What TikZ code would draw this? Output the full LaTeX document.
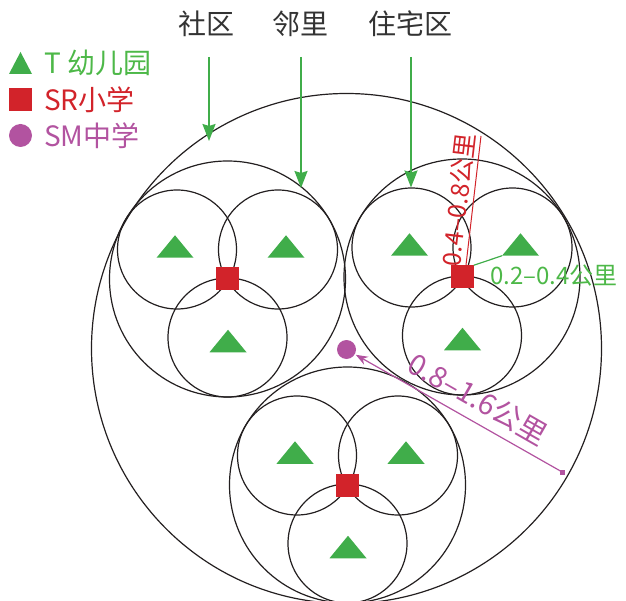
\documentclass[tikz,border=0pt]{standalone}
\usepackage{fontspec}
\setmainfont{Noto Sans CJK SC}
\usetikzlibrary{arrows.meta}
\definecolor{tgreen}{RGB}{64,173,74}
\definecolor{txtgreen}{RGB}{77,184,72}
\definecolor{sred}{RGB}{210,35,42}
\definecolor{mpurple}{RGB}{178,83,160}
\definecolor{lineblk}{RGB}{35,31,32}
\definecolor{labgray}{RGB}{51,51,51}
\tikzset{
  tri/.pic={\fill[tgreen] (-18.5,11.25) -- (18.5,11.25) -- (0,-11.25) -- cycle;},
  legtri/.pic={\fill[tgreen] (-11.5,11) -- (11.5,11) -- (0,-11) -- cycle;}
}
\begin{document}
\begin{tikzpicture}[x=1pt,y=-1pt,
  ring/.style={draw=lineblk, line width=1.2pt},
  srbox/.style={fill=sred, minimum size=23pt, inner sep=0pt, draw=none},
  smdot/.style={circle, fill=mpurple, minimum size=19pt, inner sep=0pt, draw=none},
  garrow/.style={draw=tgreen, line width=2pt, -{Stealth[length=17pt,width=13pt,inset=2pt]}},
  toplab/.style={text=labgray, inner sep=0pt, font=\fontsize{28}{28}\selectfont},
  legtext/.style={anchor=west, inner sep=0pt, font=\fontsize{28}{28}\selectfont},
  measure/.style={inner sep=0pt, font=\fontsize{24}{24}\selectfont}
]
\useasboundingbox (0,0) rectangle (626,601);
\clip (0,0) rectangle (626,601);
% big circle
\draw[ring] (346.5,348.5) circle[radius=255];
% clusters
\foreach \cx/\cy/\n in {227.5/279/1, 462/277/2, 347.5/485/3}{
  \draw[ring] (\cx,\cy) circle[radius=118];
  \draw[ring] (\cx-50.5,\cy-29.5) circle[radius=59.5];
  \draw[ring] (\cx+50.5,\cy-29.5) circle[radius=59.5];
  \draw[ring] (\cx,\cy+58.5) circle[radius=59.5];
  \pic at (\cx-52.5,\cy-32.5) {tri};
  \pic at (\cx+58.5,\cy-32.5) {tri};
  \pic at (\cx+0.5,\cy+62) {tri};
  \node[srbox] (sq\n) at (\cx,\cy) {};
}
% central school
\node[smdot] (sm) at (346.5,349.5) {};
% top labels and arrows
\node[toplab] (lab1) at (206.5,24) {社区};
\node[toplab] (lab2) at (300.5,24) {邻里};
\node[toplab] (lab3) at (410.7,24) {住宅区};
\coordinate (a1s) at (209,57);   \coordinate (a1e) at (209,141);
\coordinate (a2s) at (301,57);   \coordinate (a2e) at (301,188);
\coordinate (a3s) at (411,57);   \coordinate (a3e) at (411,187.5);
\draw[garrow] (a1s) -- (a1e);
\draw[garrow] (a2s) -- (a2e);
\draw[garrow] (a3s) -- (a3e);
% red measure
\coordinate (rbot) at (466,265);
\coordinate (rtop) at (481,136);
\draw[draw=sred, line width=1pt] (rbot) -- (rtop);
\node[measure, text=sred, rotate=83.4, font=\fontsize{25}{25}\selectfont] (rlab) at (458.5,200) {0.4–0.8公里};
% green measure
\coordinate (gend) at (502,255.75);
\draw[draw=tgreen, line width=1.2pt] (sq2.north east) -- (gend);
\node[measure, text=txtgreen, anchor=west] (glab) at (490,276) {0.2–0.4公里};
% purple measure
\coordinate (pend) at (562.7,472.3);
\draw[draw=mpurple, line width=1.2pt, -{Stealth[length=12pt,width=9pt]}, shorten >=1pt] (pend) -- (sm);
\node[fill=mpurple, minimum size=5pt, inner sep=0pt] (pbox) at (pend) {};
\node[measure, text=mpurple, rotate=-29.8, font=\fontsize{29}{29}\selectfont] (plab) at (478,399) {0.8–1.6公里};
% legend
\pic at (20.5,63) {legtri};
\node[srbox] (legsq) at (20.5,99.5) {};
\node[smdot, minimum size=23pt] (legdot) at (20.5,135.5) {};
\node[legtext, text=txtgreen] (legt) at (44,63) {T 幼儿园};
\node[legtext, text=sred] (legr) at (44,99.5) {SR小学};
\node[legtext, text=mpurple] (legm) at (44,135.5) {SM中学};
\end{tikzpicture}
\end{document}
